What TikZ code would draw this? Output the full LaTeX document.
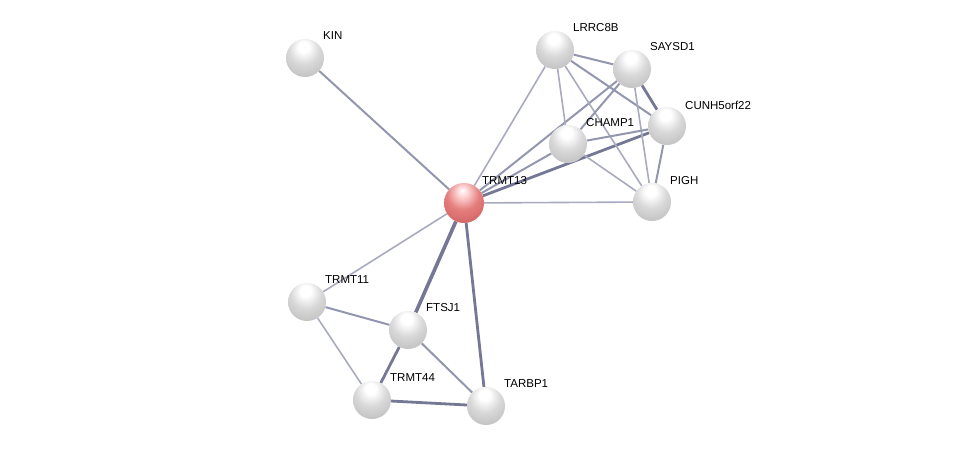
\documentclass[tikz,border=0pt]{standalone}
\usepackage{fontspec}
\setmainfont{Liberation Sans}
\usetikzlibrary{backgrounds}
\pgfdeclareradialshading{sball}{\pgfpoint{-2bp}{16bp}}{color(0bp)=(white); color(7bp)=(white); color(20bp)=(gray!30); color(38bp)=(gray!52); color(52bp)=(gray!68); color(60bp)=(gray!85); color(75bp)=(gray!85)}
\pgfdeclareradialshading{rball}{\pgfpoint{-2bp}{16bp}}{color(0bp)=(white); color(6bp)=(red!15!white); color(20bp)=(red!45!white!90!black); color(40bp)=(red!55!white!80!black); color(55bp)=(red!60!black!75); color(62bp)=(red!50!black); color(75bp)=(red!50!black)}
\definecolor{elight}{HTML}{A8ABC0}
\definecolor{emid}{HTML}{9396AF}
\definecolor{edark}{HTML}{747895}
\tikzset{
  x=1pt,y=-1pt,
  prot/.style={circle,minimum size=38pt,inner sep=0pt,shading=sball},
  protred/.style={circle,minimum size=40pt,inner sep=0pt,shading=rball},
  lbl/.style={anchor=west,inner sep=0pt,font=\fontsize{11.5}{12}\selectfont},
  ethin/.style={draw=elight,line width=1.6pt},
  emed/.style={draw=emid,line width=2pt},
  ethick/.style={draw=edark,line width=2.8pt}
}
\begin{document}
\begin{tikzpicture}
\useasboundingbox (0,0) rectangle (976,451);
\node[prot] (KIN) at (305,58) {};
\node[protred] (TRMT13) at (464,203) {};
\node[prot] (LRRC8B) at (555,50) {};
\node[prot] (SAYSD1) at (632,69) {};
\node[prot] (CUNH) at (667,126) {};
\node[prot] (CHAMP1) at (568,144) {};
\node[prot] (PIGH) at (652,202) {};
\node[prot] (TRMT11) at (307,302) {};
\node[prot] (FTSJ1) at (408,330) {};
\node[prot] (TRMT44) at (372,400) {};
\node[prot] (TARBP1) at (486,406) {};
\node[lbl] (lKIN) at (323,36) {KIN};
\node[lbl] (lTRMT13) at (482,181) {TRMT13};
\node[lbl] (lLRRC8B) at (573,28) {LRRC8B};
\node[lbl] (lSAYSD1) at (650,47) {SAYSD1};
\node[lbl] (lCUNH) at (685,105) {CUNH5orf22};
\node[lbl] (lCHAMP1) at (586,123) {CHAMP1};
\node[lbl] (lPIGH) at (670,181) {PIGH};
\node[lbl] (lTRMT11) at (325,280) {TRMT11};
\node[lbl] (lFTSJ1) at (426,308) {FTSJ1};
\node[lbl] (lTRMT44) at (390,378) {TRMT44};
\node[lbl] (lTARBP1) at (504,384) {TARBP1};
\begin{scope}[on background layer]
\draw[emed] (KIN) -- (TRMT13);
\draw[ethin] (TRMT13) -- (LRRC8B);
\draw[emed] (TRMT13) -- (SAYSD1);
\draw[ethick] (TRMT13) -- (CUNH);
\draw[emed] (TRMT13) -- (CHAMP1);
\draw[ethin] (TRMT13) -- (PIGH);
\draw[ethin] (TRMT13) -- (TRMT11);
\draw[ethick,line width=3.6pt] (TRMT13) -- (FTSJ1);
\draw[ethick] (TRMT13) -- (TARBP1);
\draw[emed] (TRMT11) -- (FTSJ1);
\draw[ethin] (TRMT11) -- (TRMT44);
\draw[ethick] (FTSJ1) -- (TRMT44);
\draw[emed] (FTSJ1) -- (TARBP1);
\draw[ethick] (TRMT44) -- (TARBP1);
\draw[emed] (LRRC8B) -- (SAYSD1);
\draw[emed] (LRRC8B) -- (CUNH);
\draw[ethin] (LRRC8B) -- (CHAMP1);
\draw[ethin] (LRRC8B) -- (PIGH);
\draw[emed] (SAYSD1) -- (CHAMP1);
\draw[ethick] (SAYSD1) -- (CUNH);
\draw[ethin] (SAYSD1) -- (PIGH);
\draw[emed] (CUNH) -- (CHAMP1);
\draw[emed] (CUNH) -- (PIGH);
\draw[ethin] (CHAMP1) -- (PIGH);
\end{scope}
\end{tikzpicture}
\end{document}
